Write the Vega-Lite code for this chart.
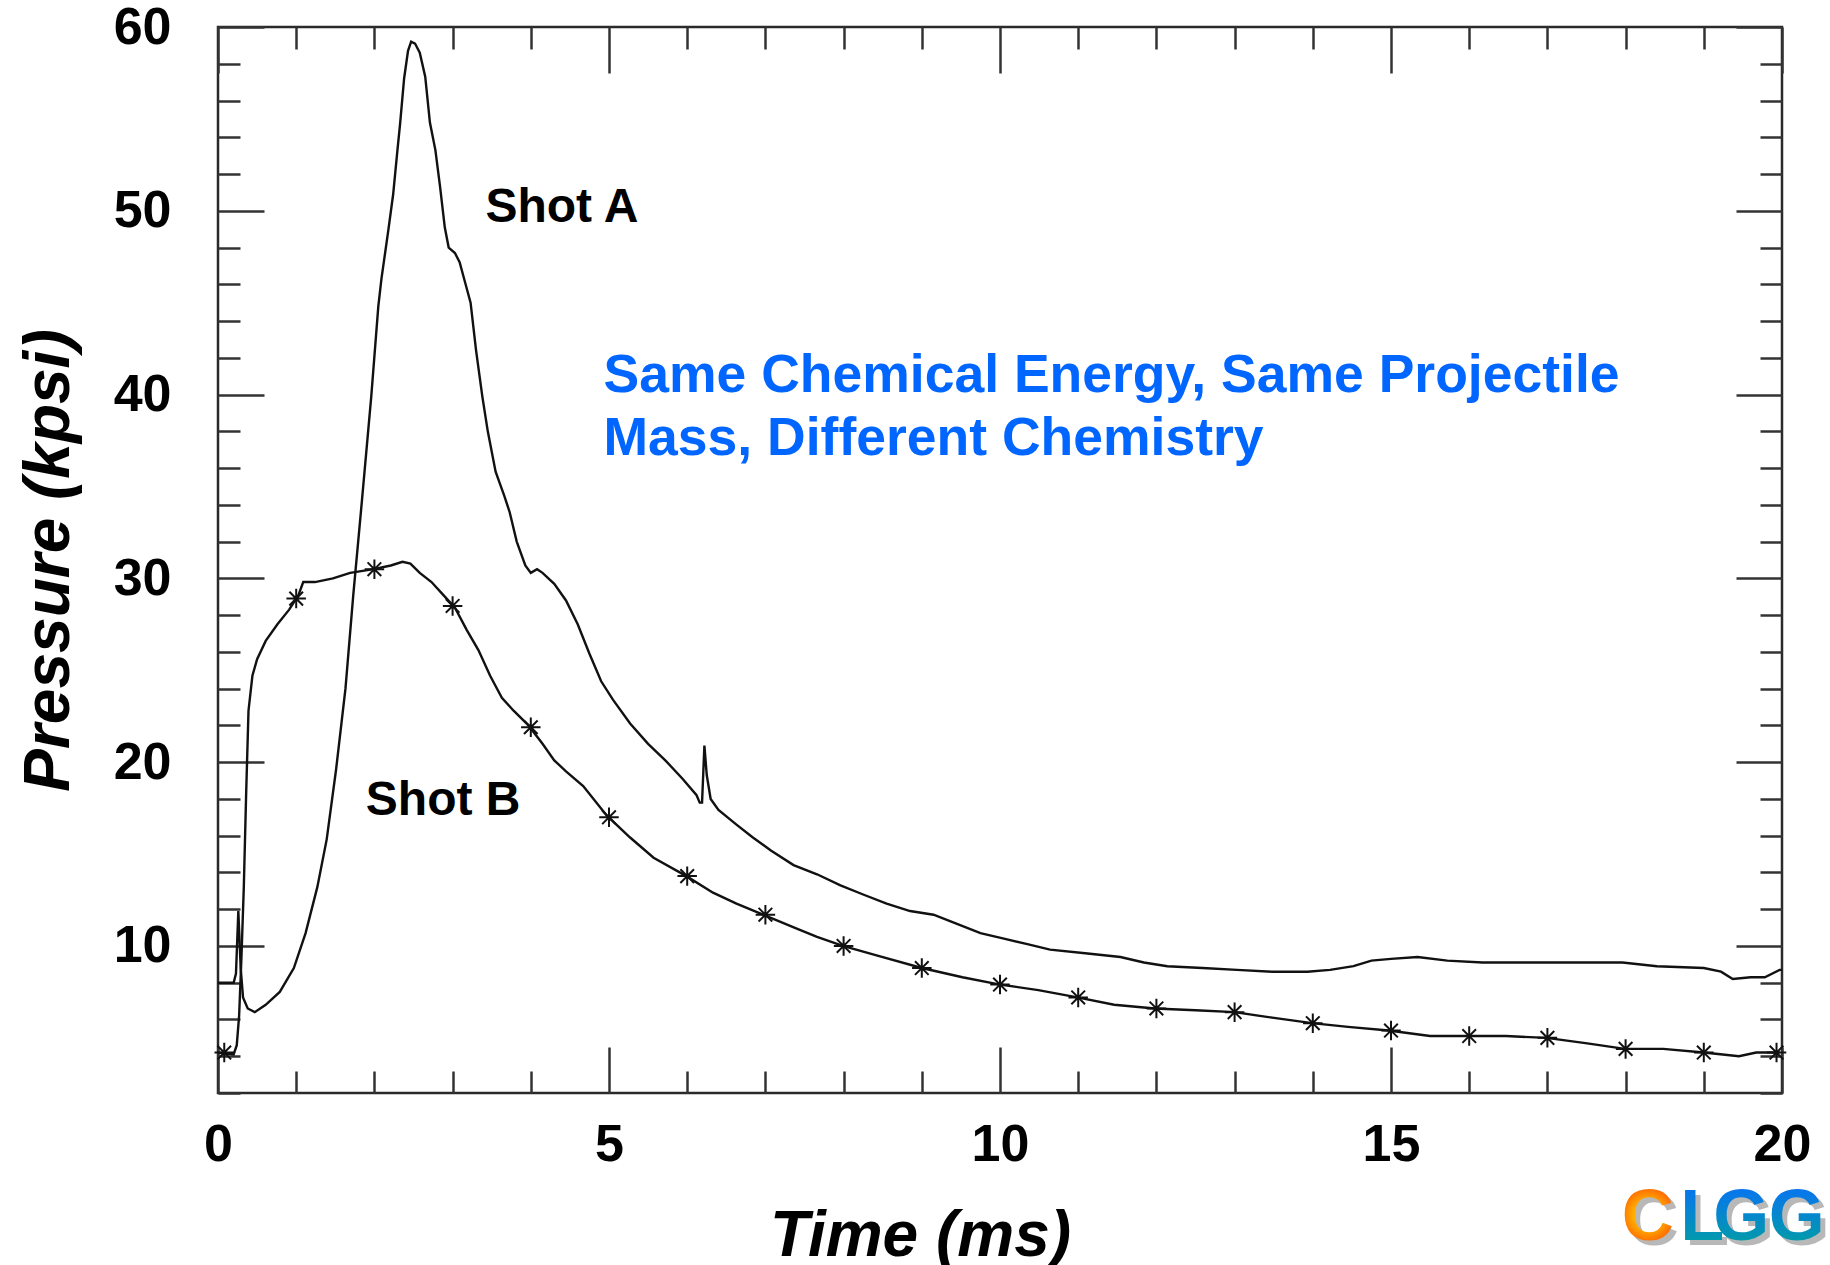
{
  "$schema": "https://vega.github.io/schema/vega-lite/v6.json",
  "width": 1564,
  "height": 1066,
  "autosize": {"type": "none"},
  "padding": {"left": 218, "top": 27, "right": 48, "bottom": 172},
  "background": "white",
  "config": {
    "view": {"stroke": "#2a2a2a", "strokeWidth": 2.5},
    "axis": {"domain": false, "grid": false, "tickColor": "#333333", "tickWidth": 2.5, "labelColor": "#000000", "titleColor": "#000000"}
  },
  "datasets": {
    "curves": [
      {"shot": "A", "t": 0, "p": 8.0}, {"shot": "A", "t": 0.2, "p": 8.0}, {"shot": "A", "t": 0.23, "p": 8.5},
      {"shot": "A", "t": 0.26, "p": 11.9}, {"shot": "A", "t": 0.29, "p": 8.8}, {"shot": "A", "t": 0.32, "p": 7.2},
      {"shot": "A", "t": 0.38, "p": 6.6}, {"shot": "A", "t": 0.47, "p": 6.4}, {"shot": "A", "t": 0.61, "p": 6.8},
      {"shot": "A", "t": 0.79, "p": 7.5}, {"shot": "A", "t": 0.97, "p": 8.8}, {"shot": "A", "t": 1.12, "p": 10.7},
      {"shot": "A", "t": 1.27, "p": 13.2}, {"shot": "A", "t": 1.39, "p": 15.8}, {"shot": "A", "t": 1.51, "p": 19.6},
      {"shot": "A", "t": 1.63, "p": 24.0}, {"shot": "A", "t": 1.73, "p": 29.1}, {"shot": "A", "t": 1.84, "p": 34.2},
      {"shot": "A", "t": 1.96, "p": 39.9}, {"shot": "A", "t": 2.05, "p": 44.8}, {"shot": "A", "t": 2.09, "p": 46.3},
      {"shot": "A", "t": 2.18, "p": 49.0}, {"shot": "A", "t": 2.24, "p": 50.9}, {"shot": "A", "t": 2.29, "p": 53.1},
      {"shot": "A", "t": 2.33, "p": 54.8}, {"shot": "A", "t": 2.38, "p": 57.2}, {"shot": "A", "t": 2.43, "p": 58.7},
      {"shot": "A", "t": 2.47, "p": 59.2}, {"shot": "A", "t": 2.52, "p": 59.1}, {"shot": "A", "t": 2.58, "p": 58.6},
      {"shot": "A", "t": 2.65, "p": 57.3}, {"shot": "A", "t": 2.71, "p": 54.8}, {"shot": "A", "t": 2.78, "p": 53.3},
      {"shot": "A", "t": 2.84, "p": 51.3}, {"shot": "A", "t": 2.9, "p": 49.1}, {"shot": "A", "t": 2.95, "p": 48.0},
      {"shot": "A", "t": 3.03, "p": 47.7}, {"shot": "A", "t": 3.09, "p": 47.2}, {"shot": "A", "t": 3.16, "p": 46.1},
      {"shot": "A", "t": 3.23, "p": 45.0}, {"shot": "A", "t": 3.3, "p": 42.4}, {"shot": "A", "t": 3.38, "p": 39.9},
      {"shot": "A", "t": 3.45, "p": 38.0}, {"shot": "A", "t": 3.55, "p": 35.8}, {"shot": "A", "t": 3.66, "p": 34.5},
      {"shot": "A", "t": 3.73, "p": 33.6}, {"shot": "A", "t": 3.82, "p": 32.0}, {"shot": "A", "t": 3.93, "p": 30.7},
      {"shot": "A", "t": 4.0, "p": 30.3}, {"shot": "A", "t": 4.08, "p": 30.5}, {"shot": "A", "t": 4.15, "p": 30.3},
      {"shot": "A", "t": 4.3, "p": 29.7}, {"shot": "A", "t": 4.45, "p": 28.8}, {"shot": "A", "t": 4.6, "p": 27.5},
      {"shot": "A", "t": 4.75, "p": 25.9}, {"shot": "A", "t": 4.9, "p": 24.4}, {"shot": "A", "t": 5.05, "p": 23.4},
      {"shot": "A", "t": 5.27, "p": 22.1}, {"shot": "A", "t": 5.5, "p": 21.0}, {"shot": "A", "t": 5.72, "p": 20.1},
      {"shot": "A", "t": 5.94, "p": 19.1}, {"shot": "A", "t": 6.12, "p": 18.2}, {"shot": "A", "t": 6.16, "p": 17.8},
      {"shot": "A", "t": 6.19, "p": 17.8}, {"shot": "A", "t": 6.22, "p": 20.9}, {"shot": "A", "t": 6.25, "p": 19.3},
      {"shot": "A", "t": 6.3, "p": 18.0}, {"shot": "A", "t": 6.4, "p": 17.4}, {"shot": "A", "t": 6.63, "p": 16.6},
      {"shot": "A", "t": 6.84, "p": 15.9}, {"shot": "A", "t": 7.07, "p": 15.2}, {"shot": "A", "t": 7.36, "p": 14.4},
      {"shot": "A", "t": 7.66, "p": 13.9}, {"shot": "A", "t": 7.96, "p": 13.3}, {"shot": "A", "t": 8.25, "p": 12.8},
      {"shot": "A", "t": 8.55, "p": 12.3}, {"shot": "A", "t": 8.85, "p": 11.9}, {"shot": "A", "t": 9.15, "p": 11.7},
      {"shot": "A", "t": 9.45, "p": 11.2}, {"shot": "A", "t": 9.75, "p": 10.7}, {"shot": "A", "t": 10.05, "p": 10.4},
      {"shot": "A", "t": 10.35, "p": 10.1}, {"shot": "A", "t": 10.64, "p": 9.8}, {"shot": "A", "t": 11.09, "p": 9.6},
      {"shot": "A", "t": 11.54, "p": 9.4}, {"shot": "A", "t": 11.84, "p": 9.1}, {"shot": "A", "t": 12.14, "p": 8.9},
      {"shot": "A", "t": 12.59, "p": 8.8}, {"shot": "A", "t": 13.03, "p": 8.7}, {"shot": "A", "t": 13.48, "p": 8.6},
      {"shot": "A", "t": 13.93, "p": 8.6}, {"shot": "A", "t": 14.22, "p": 8.7}, {"shot": "A", "t": 14.52, "p": 8.9},
      {"shot": "A", "t": 14.75, "p": 9.2}, {"shot": "A", "t": 15.0, "p": 9.3}, {"shot": "A", "t": 15.34, "p": 9.4},
      {"shot": "A", "t": 15.72, "p": 9.2}, {"shot": "A", "t": 16.17, "p": 9.1}, {"shot": "A", "t": 16.61, "p": 9.1},
      {"shot": "A", "t": 17.06, "p": 9.1}, {"shot": "A", "t": 17.51, "p": 9.1}, {"shot": "A", "t": 17.96, "p": 9.1},
      {"shot": "A", "t": 18.4, "p": 8.9}, {"shot": "A", "t": 19.0, "p": 8.8}, {"shot": "A", "t": 19.22, "p": 8.6},
      {"shot": "A", "t": 19.37, "p": 8.2}, {"shot": "A", "t": 19.6, "p": 8.3}, {"shot": "A", "t": 19.78, "p": 8.3},
      {"shot": "A", "t": 19.97, "p": 8.7}, {"shot": "A", "t": 20.0, "p": 8.7},
      {"shot": "B", "t": 0, "p": 4.2}, {"shot": "B", "t": 0.2, "p": 4.1}, {"shot": "B", "t": 0.24, "p": 4.6},
      {"shot": "B", "t": 0.27, "p": 6.2}, {"shot": "B", "t": 0.3, "p": 9.4}, {"shot": "B", "t": 0.33, "p": 13.2},
      {"shot": "B", "t": 0.36, "p": 18.3}, {"shot": "B", "t": 0.39, "p": 22.8}, {"shot": "B", "t": 0.44, "p": 24.7},
      {"shot": "B", "t": 0.5, "p": 25.6}, {"shot": "B", "t": 0.61, "p": 26.6}, {"shot": "B", "t": 0.76, "p": 27.5},
      {"shot": "B", "t": 0.91, "p": 28.3}, {"shot": "B", "t": 1.03, "p": 29.1}, {"shot": "B", "t": 1.09, "p": 29.8},
      {"shot": "B", "t": 1.24, "p": 29.8}, {"shot": "B", "t": 1.47, "p": 30.0}, {"shot": "B", "t": 1.69, "p": 30.3},
      {"shot": "B", "t": 1.99, "p": 30.5}, {"shot": "B", "t": 2.21, "p": 30.7}, {"shot": "B", "t": 2.36, "p": 30.9},
      {"shot": "B", "t": 2.46, "p": 30.8}, {"shot": "B", "t": 2.58, "p": 30.3}, {"shot": "B", "t": 2.73, "p": 29.8},
      {"shot": "B", "t": 2.88, "p": 29.1}, {"shot": "B", "t": 3.03, "p": 28.4}, {"shot": "B", "t": 3.18, "p": 27.2},
      {"shot": "B", "t": 3.33, "p": 26.1}, {"shot": "B", "t": 3.48, "p": 24.7}, {"shot": "B", "t": 3.63, "p": 23.5},
      {"shot": "B", "t": 3.78, "p": 22.8}, {"shot": "B", "t": 3.97, "p": 22.0}, {"shot": "B", "t": 4.15, "p": 21.0},
      {"shot": "B", "t": 4.3, "p": 20.1}, {"shot": "B", "t": 4.45, "p": 19.5}, {"shot": "B", "t": 4.67, "p": 18.7},
      {"shot": "B", "t": 4.97, "p": 17.1}, {"shot": "B", "t": 5.27, "p": 15.9}, {"shot": "B", "t": 5.57, "p": 14.8},
      {"shot": "B", "t": 5.99, "p": 13.8}, {"shot": "B", "t": 6.33, "p": 12.9}, {"shot": "B", "t": 6.63, "p": 12.3},
      {"shot": "B", "t": 6.97, "p": 11.7}, {"shot": "B", "t": 7.37, "p": 11.0}, {"shot": "B", "t": 7.66, "p": 10.5},
      {"shot": "B", "t": 7.99, "p": 10.0}, {"shot": "B", "t": 8.41, "p": 9.5}, {"shot": "B", "t": 9.0, "p": 8.8},
      {"shot": "B", "t": 9.52, "p": 8.3}, {"shot": "B", "t": 10.0, "p": 7.9}, {"shot": "B", "t": 10.49, "p": 7.6},
      {"shot": "B", "t": 10.99, "p": 7.2}, {"shot": "B", "t": 11.46, "p": 6.8}, {"shot": "B", "t": 11.98, "p": 6.6},
      {"shot": "B", "t": 12.5, "p": 6.5}, {"shot": "B", "t": 13.0, "p": 6.4}, {"shot": "B", "t": 13.48, "p": 6.1},
      {"shot": "B", "t": 13.99, "p": 5.8}, {"shot": "B", "t": 14.45, "p": 5.6}, {"shot": "B", "t": 14.97, "p": 5.4},
      {"shot": "B", "t": 15.5, "p": 5.1}, {"shot": "B", "t": 16.0, "p": 5.1}, {"shot": "B", "t": 16.47, "p": 5.1},
      {"shot": "B", "t": 16.99, "p": 5.0}, {"shot": "B", "t": 17.51, "p": 4.7}, {"shot": "B", "t": 17.99, "p": 4.4},
      {"shot": "B", "t": 18.48, "p": 4.4}, {"shot": "B", "t": 19.0, "p": 4.2}, {"shot": "B", "t": 19.45, "p": 4.0},
      {"shot": "B", "t": 19.67, "p": 4.2}, {"shot": "B", "t": 19.97, "p": 4.2}
    ],
    "stars": [
      {"t": 0.08, "p": 4.2}, {"t": 1, "p": 28.9}, {"t": 2, "p": 30.5}, {"t": 3, "p": 28.5}, {"t": 4, "p": 21.9},
      {"t": 5, "p": 17.0}, {"t": 6, "p": 13.8}, {"t": 7, "p": 11.7}, {"t": 8, "p": 10.0}, {"t": 9, "p": 8.8},
      {"t": 10, "p": 7.9}, {"t": 11, "p": 7.2}, {"t": 12, "p": 6.6}, {"t": 13, "p": 6.4}, {"t": 14, "p": 5.8},
      {"t": 15, "p": 5.4}, {"t": 16, "p": 5.1}, {"t": 17, "p": 5.0}, {"t": 18, "p": 4.4}, {"t": 19, "p": 4.2},
      {"t": 19.93, "p": 4.2}
    ],
    "shotlabels": [
      {"label": "Shot A", "t": 3.42, "p": 49.41},
      {"label": "Shot B", "t": 1.89, "p": 17.15}
    ],
    "note": [
      {"label": "Same Chemical Energy, Same Projectile\nMass, Different Chemistry", "t": 4.93, "p": 40.14}
    ],
    "logo": [
      {"label": "C", "t": 17.95, "p": -6.0},
      {"label": "L", "t": 18.7, "p": -6.0},
      {"label": "G", "t": 19.12, "p": -6.0},
      {"label": "G", "t": 19.83, "p": -6.0}
    ]
  },
  "resolve": {"axis": {"x": "independent", "y": "independent"}},
  "layer": [
    {
      "data": {"name": "curves"},
      "mark": {"type": "line", "color": "#111111", "strokeWidth": 2.4, "interpolate": "linear"},
      "encoding": {
        "x": {"field": "t", "type": "quantitative", "scale": {"domain": [0, 20], "nice": false, "zero": false},
          "axis": {"orient": "bottom", "values": [0, 5, 10, 15, 20], "format": "d", "ticks": false, "tickSize": 0,
            "labelPadding": 26, "labelFlush": false, "labelOverlap": false, "labelFont": "Liberation Sans",
            "labelFontSize": 52, "labelFontWeight": "bold",
            "title": "Time (ms)", "titleFont": "Liberation Sans", "titleFontSize": 64, "titleFontWeight": "bold",
            "titleFontStyle": "italic", "titleX": 702, "titleY": 162, "titleBaseline": "alphabetic", "titleAlign": "center"}},
        "y": {"field": "p", "type": "quantitative", "scale": {"domain": [2, 60], "nice": false, "zero": false},
          "axis": {"orient": "left", "values": [10, 20, 30, 40, 50, 60], "format": "d", "ticks": false, "tickSize": 0,
            "labelPadding": 47, "labelFlush": false, "labelOverlap": false, "labelFont": "Liberation Sans",
            "labelFontSize": 52, "labelFontWeight": "bold", "labelBaseline": "middle",
            "title": "Pressure (kpsi)", "titleFont": "Liberation Sans", "titleFontSize": 64, "titleFontWeight": "bold",
            "titleFontStyle": "italic", "titleAngle": 270, "titleX": -150, "titleY": 533, "titleBaseline": "alphabetic", "titleAlign": "center"}},
        "detail": {"field": "shot", "type": "nominal"}
      }
    },
    {
      "data": {"name": "stars"},
      "mark": {"type": "point", "shape": "M-1,0L1,0M0,-1L0,1M-0.7,-0.7L0.7,0.7M-0.7,0.7L0.7,-0.7", "filled": false, "stroke": "#111111", "strokeWidth": 2, "size": 380, "opacity": 1},
      "encoding": {
        "x": {"field": "t", "type": "quantitative", "scale": {"domain": [0, 20], "nice": false, "zero": false},
          "axis": {"orient": "bottom", "values": [0,1,2,3,4,5,6,7,8,9,10,11,12,13,14,15,16,17,18,19,20], "labels": false, "title": null,
            "tickSize": {"condition": {"test": "datum.value % 5 === 0", "value": -46}, "value": -22}}},
        "y": {"field": "p", "type": "quantitative", "scale": {"domain": [2, 60], "nice": false, "zero": false},
          "axis": {"orient": "left", "values": [2,4,6,8,10,12,14,16,18,20,22,24,26,28,30,32,34,36,38,40,42,44,46,48,50,52,54,56,58,60], "labels": false, "title": null,
            "tickSize": {"condition": {"test": "datum.value % 10 === 0", "value": -46}, "value": -22}}}
      }
    },
    {
      "data": {"name": "shotlabels"},
      "mark": {"type": "text", "align": "left", "baseline": "alphabetic", "font": "Liberation Sans", "fontSize": 48, "fontWeight": "bold", "color": "#000000"},
      "encoding": {
        "x": {"field": "t", "type": "quantitative", "scale": {"domain": [0, 20], "nice": false, "zero": false},
          "axis": {"orient": "top", "values": [0,1,2,3,4,5,6,7,8,9,10,11,12,13,14,15,16,17,18,19,20], "labels": false, "title": null,
            "tickSize": {"condition": {"test": "datum.value % 5 === 0", "value": -46}, "value": -22}}},
        "y": {"field": "p", "type": "quantitative", "scale": {"domain": [2, 60], "nice": false, "zero": false},
          "axis": {"orient": "right", "values": [2,4,6,8,10,12,14,16,18,20,22,24,26,28,30,32,34,36,38,40,42,44,46,48,50,52,54,56,58,60], "labels": false, "title": null,
            "tickSize": {"condition": {"test": "datum.value % 10 === 0", "value": -46}, "value": -22}}},
        "text": {"field": "label", "type": "nominal"}
      }
    },
    {
      "data": {"name": "note"},
      "mark": {"type": "text", "align": "left", "baseline": "alphabetic", "font": "Liberation Sans", "fontSize": 53.5, "fontWeight": "bold", "color": "#0066FF", "lineBreak": "\n", "lineHeight": 63},
      "encoding": {
        "x": {"field": "t", "type": "quantitative", "scale": {"domain": [0, 20], "nice": false, "zero": false}, "axis": null},
        "y": {"field": "p", "type": "quantitative", "scale": {"domain": [2, 60], "nice": false, "zero": false}, "axis": null},
        "text": {"field": "label", "type": "nominal"}
      }
    },
    {
      "data": {"name": "logo"},
      "mark": {"type": "text", "align": "left", "baseline": "alphabetic", "font": "Liberation Sans", "fontSize": 72, "fontWeight": "bold", "color": "#b8b8b8", "dx": 5, "dy": 5},
      "encoding": {
        "x": {"field": "t", "type": "quantitative", "scale": {"domain": [0, 20], "nice": false, "zero": false}, "axis": null},
        "y": {"field": "p", "type": "quantitative", "scale": {"domain": [2, 60], "nice": false, "zero": false}, "axis": null},
        "text": {"field": "label", "type": "nominal"}
      }
    },
    {
      "data": {"name": "logo"},
      "transform": [{"filter": "datum.label === 'C'"}],
      "mark": {"type": "text", "align": "left", "baseline": "alphabetic", "font": "Liberation Sans", "fontSize": 72, "fontWeight": "bold",
        "fill": {"gradient": "radial", "stops": [{"offset": 0, "color": "#fff200"}, {"offset": 0.45, "color": "#ff9a00"}, {"offset": 1, "color": "#ff2a00"}]}},
      "encoding": {
        "x": {"field": "t", "type": "quantitative", "scale": {"domain": [0, 20], "nice": false, "zero": false}, "axis": null},
        "y": {"field": "p", "type": "quantitative", "scale": {"domain": [2, 60], "nice": false, "zero": false}, "axis": null},
        "text": {"field": "label", "type": "nominal"}
      }
    },
    {
      "data": {"name": "logo"},
      "transform": [{"filter": "datum.label !== 'C'"}],
      "mark": {"type": "text", "align": "left", "baseline": "alphabetic", "font": "Liberation Sans", "fontSize": 72, "fontWeight": "bold",
        "fill": {"gradient": "linear", "x1": 0, "y1": 0, "x2": 0, "y2": 1, "stops": [{"offset": 0, "color": "#0a6cff"}, {"offset": 1, "color": "#00a39a"}]}},
      "encoding": {
        "x": {"field": "t", "type": "quantitative", "scale": {"domain": [0, 20], "nice": false, "zero": false}, "axis": null},
        "y": {"field": "p", "type": "quantitative", "scale": {"domain": [2, 60], "nice": false, "zero": false}, "axis": null},
        "text": {"field": "label", "type": "nominal"}
      }
    }
  ]
}
